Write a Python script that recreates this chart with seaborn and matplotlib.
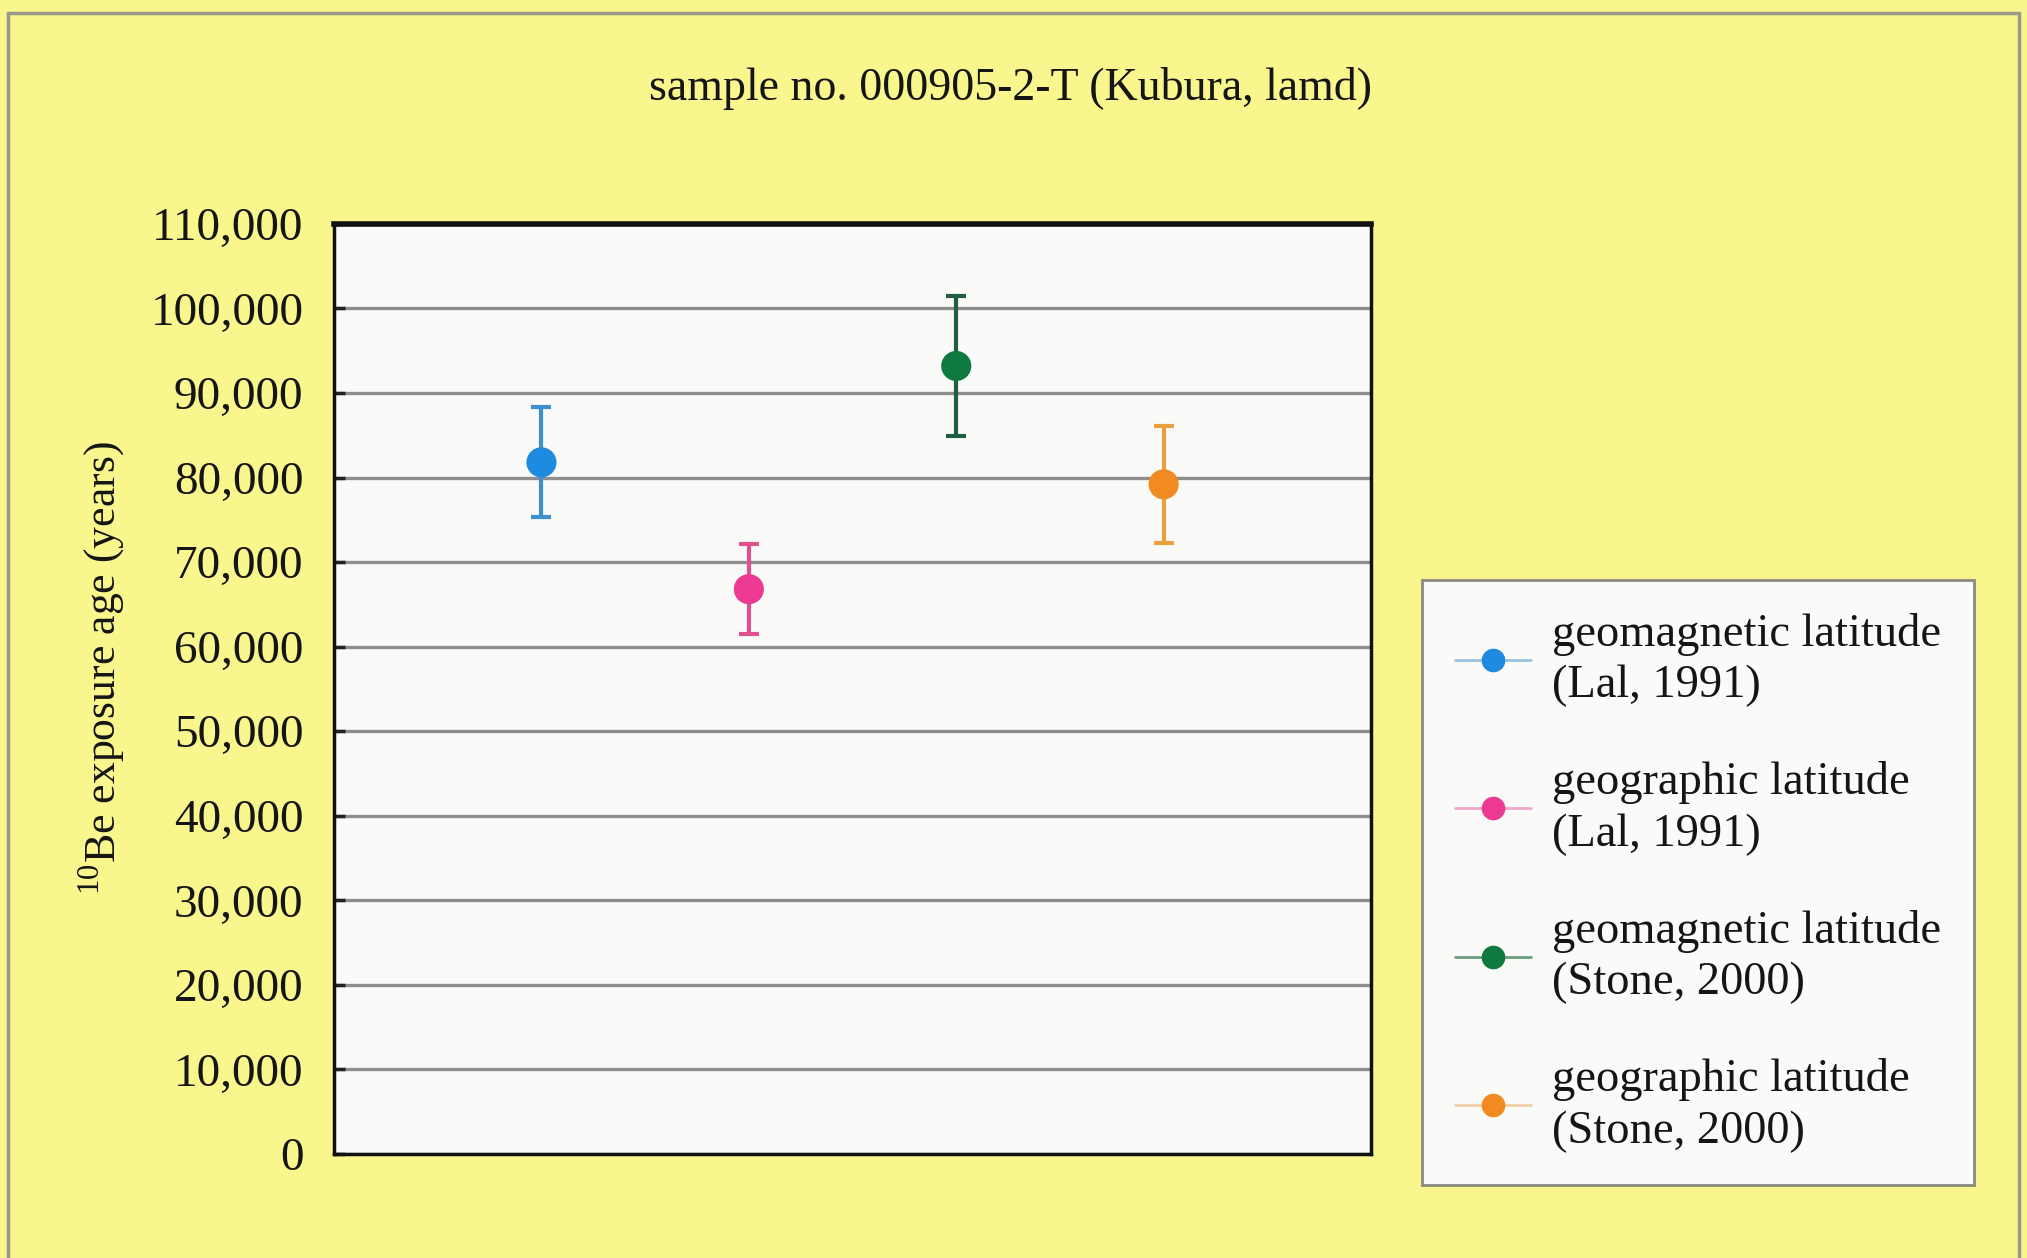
import matplotlib
matplotlib.use("Agg")
import matplotlib.pyplot as plt
from matplotlib.lines import Line2D
from matplotlib.patches import Rectangle
from matplotlib.ticker import StrMethodFormatter, MultipleLocator
import seaborn as sns
import pandas as pd

# ---- data ----
series = ["geomagnetic latitude\n(Lal, 1991)",
          "geographic latitude\n(Lal, 1991)",
          "geomagnetic latitude\n(Stone, 2000)",
          "geographic latitude\n(Stone, 2000)"]
ages = [81800, 66800, 93200, 79200]
errors = [6500, 5300, 8300, 6900]
marker_colors = ["#1E8AE0", "#EC3A92", "#0F7A40", "#F28A22"]
bar_colors = ["#3D8FD0", "#E0508E", "#1F5E3E", "#EBA040"]
legend_line_colors = ["#9CC4E0", "#F0A8C8", "#6E9E80", "#F3D0A8"]

title = "sample no. 000905-2-T (Kubura, lamd)"
ylabel = r"$^{10}$Be exposure age (years)"

df = pd.DataFrame({"series": series, "age": ages, "err": errors})

sns.set_theme(style="white")
serif = ["Liberation Serif", "DejaVu Serif"]
plt.rcParams["font.family"] = serif
plt.rcParams["mathtext.fontset"] = "custom"
plt.rcParams["mathtext.rm"] = "Liberation Serif"

bg = "#F9F68E"
fig = plt.figure(figsize=(20.27, 12.58), dpi=100, facecolor=bg)
ax = fig.add_axes([0.1648, 0.0827, 0.6764 - 0.1648, 0.822 - 0.0827])
ax.set_facecolor("#FAFAF8")

# error bars
for i, (a, e, c) in enumerate(zip(df["age"], df["err"], bar_colors)):
    ax.errorbar(i, a, yerr=e, fmt="none", ecolor=c, elinewidth=3,
                capsize=7, capthick=3, zorder=3)

sns.scatterplot(data=df, x="series", y="age", hue="series",
                palette=marker_colors, s=470, edgecolor="none",
                legend=False, ax=ax, zorder=4)

ax.set_xlim(-1, 4)
ax.set_ylim(0, 110000)
ax.yaxis.set_major_locator(MultipleLocator(10000))
ax.yaxis.set_major_formatter(StrMethodFormatter("{x:,.0f}"))
ax.set_xticks([])
ax.set_xlabel("")
ax.grid(axis="y", color="#8E8E8E", lw=2.4)
ax.set_axisbelow(True)
for sp in ax.spines.values():
    sp.set_color("#111111")
    sp.set_linewidth(2.5)
ax.spines["top"].set_linewidth(4)
ax.tick_params(axis="y", direction="in", length=8, width=2.5, color="#222222",
               labelsize=34, pad=22, labelcolor="#151515", left=True)
ax.set_ylabel(ylabel, fontsize=31.5, color="#151515")
ax.yaxis.set_label_coords(-0.199, 0.5226)

fig.text(0.4985, 0.930, title, ha="center", va="center", fontsize=33,
         color="#151515")

handles = [Line2D([], [], color=lc, lw=2, marker="o", ms=16,
                  markerfacecolor=mc, markeredgecolor=mc)
           for lc, mc in zip(legend_line_colors, marker_colors)]
leg = fig.legend(handles, series, loc="upper left",
                 bbox_to_anchor=(0.7015, 0.539), fontsize=33.5,
                 frameon=True, fancybox=False, edgecolor="#8A8A80",
                 facecolor="#FAFAF8", framealpha=1, labelspacing=1.16,
                 handlelength=1.65, handletextpad=0.45, borderpad=0.7,
                 borderaxespad=0)
leg.get_frame().set_linewidth(2)
for t in leg.get_texts():
    t.set_color("#151515")
    t.set_linespacing(1.28)

fig.patches.append(Rectangle((0.004, -0.01), 0.992, 1.0, transform=fig.transFigure,
                             fill=False, edgecolor="#9A9A8A", lw=2.5))

fig.savefig("out.png", dpi=100, facecolor=bg)
